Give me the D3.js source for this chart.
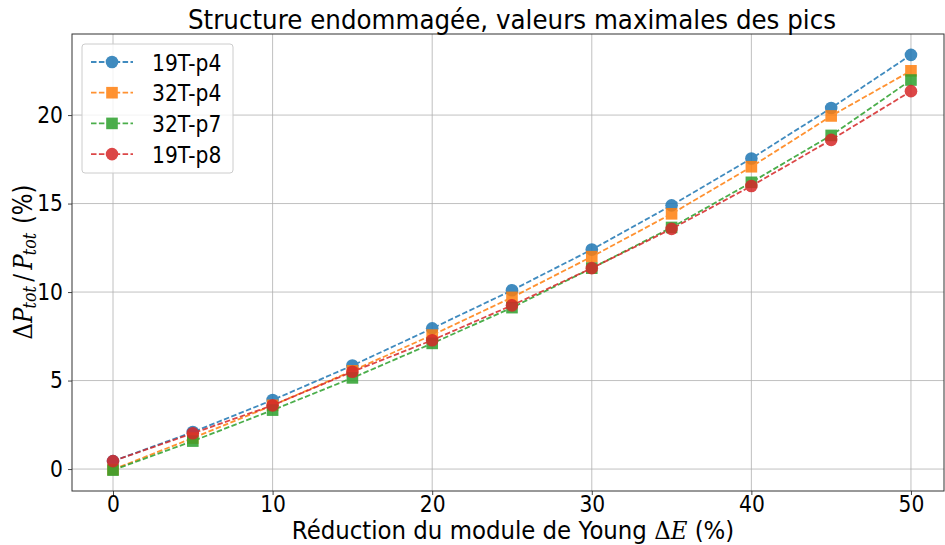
<!DOCTYPE html>
<html>
<head>
<meta charset="utf-8">
<script src="https://cdn.jsdelivr.net/npm/d3@7"></script>
<style>
  html, body { margin: 0; padding: 0; background: #ffffff; }
  svg { display: block; }
  text { font-family: "DejaVu Sans", sans-serif; fill: #000; }
</style>
</head>
<body>
<svg id="chart" width="945" height="545"></svg>
<script>
// Stiffness reduction (%) of the damaged structure
const reductions = [0, 5, 10, 15, 20, 25, 30, 35, 40, 45, 50];

// Maximum peak variation ΔP_tot / P_tot (%) for each sensor
const s19Tp4 = [0.45, 2.09, 3.90, 5.85, 7.95, 10.10, 12.40, 14.90, 17.55, 20.40, 23.40];
const s32Tp4 = [-0.03, 1.75, 3.60, 5.55, 7.57, 9.70, 12.00, 14.42, 17.08, 19.95, 22.50];
const s32Tp7 = [-0.06, 1.58, 3.33, 5.15, 7.10, 9.12, 11.35, 13.65, 16.20, 18.85, 21.98];
const s19Tp8 = [0.45, 2.02, 3.60, 5.50, 7.28, 9.25, 11.35, 13.57, 15.99, 18.60, 21.35];

const seriesNames = ["19T-p4", "32T-p4", "32T-p7", "19T-p8"];
const seriesValues = [s19Tp4, s32Tp4, s32Tp7, s19Tp8];
const seriesColors = ["#1f77b4", "#ff7f0e", "#2ca02c", "#d62728"];
const seriesMarkers = ["circle", "square", "square", "circle"];

const xTicks = [0, 10, 20, 30, 40, 50];
const yTicks = [0, 5, 10, 15, 20];

const plotLeft = 72, plotRight = 944, plotTop = 34, plotBottom = 491;
const squeeze = 0.88; // narrower glyph advance used for every text

const x = d3.scaleLinear().domain([-2.57, 52.07]).range([plotLeft, plotRight]);
const y = d3.scaleLinear().domain([-1.24, 24.58]).range([plotBottom, plotTop]);

const svg = d3.select("#chart");

function narrow(sel, target) {
  sel.each(function () {
    const len = this.getComputedTextLength();
    d3.select(this).attr("textLength", target || len * squeeze)
      .attr("lengthAdjust", "spacingAndGlyphs");
  });
}

// grid
const grid = svg.append("g");
grid.selectAll("line.gx").data(xTicks).join("line").attr("class", "gx")
  .attr("x1", d => x(d)).attr("x2", d => x(d))
  .attr("y1", plotTop).attr("y2", plotBottom)
  .attr("stroke", "#b0b0b0").attr("stroke-width", 0.8);
grid.selectAll("line.gy").data(yTicks).join("line").attr("class", "gy")
  .attr("x1", plotLeft).attr("x2", plotRight)
  .attr("y1", d => y(d)).attr("y2", d => y(d))
  .attr("stroke", "#b0b0b0").attr("stroke-width", 0.8);

// axes
const xAxis = d3.axisBottom(x).tickValues(xTicks).tickSize(4).tickPadding(1).tickFormat(d3.format("d"));
const yAxis = d3.axisLeft(y).tickValues(yTicks).tickSize(4).tickPadding(5).tickFormat(d3.format("d"));

const gx = svg.append("g").attr("transform", `translate(0,${plotBottom})`).call(xAxis);
const gy = svg.append("g").attr("transform", `translate(${plotLeft},0)`).call(yAxis);
[gx, gy].forEach(g => {
  g.select(".domain").remove();
  g.selectAll(".tick line").attr("stroke", "#333").attr("stroke-width", 0.9);
  g.selectAll(".tick text").attr("font-size", 23).attr("font-family", "DejaVu Sans").attr("fill", "#000");
  narrow(g.selectAll(".tick text"));
});

// frame
svg.append("rect").attr("x", plotLeft).attr("y", plotTop)
  .attr("width", plotRight - plotLeft).attr("height", plotBottom - plotTop)
  .attr("fill", "none").attr("stroke", "#333").attr("stroke-width", 1);

// series
const line = d3.line().x((d, i) => x(reductions[i])).y(d => y(d));
const plot = svg.append("g");
seriesValues.forEach((vals, k) => {
  const g = plot.append("g").attr("opacity", 0.85);
  g.append("path").datum(vals).attr("d", line)
    .attr("fill", "none").attr("stroke", seriesColors[k])
    .attr("stroke-width", 1.8).attr("stroke-dasharray", "5.5,2.4");
  if (seriesMarkers[k] === "circle") {
    g.selectAll("circle").data(vals).join("circle")
      .attr("cx", (d, i) => x(reductions[i])).attr("cy", d => y(d))
      .attr("r", 6.3).attr("fill", seriesColors[k]);
  } else {
    g.selectAll("rect").data(vals).join("rect")
      .attr("x", (d, i) => x(reductions[i]) - 5.8).attr("y", d => y(d) - 5.8)
      .attr("width", 11.6).attr("height", 11.6).attr("fill", seriesColors[k]);
  }
});

// title
svg.append("text").attr("x", 512).attr("y", 29).attr("text-anchor", "middle")
  .attr("font-size", 27)
  .text("Structure endommagée, valeurs maximales des pics")
  .call(narrow, 648);

// x label (horizontally condensed through a transform)
const xl = svg.append("text").attr("transform", "translate(513,539) scale(0.915,1)")
  .attr("text-anchor", "middle").attr("font-size", 25);
xl.append("tspan").text("Réduction du module de Young ");
xl.append("tspan").attr("font-family", "DejaVu Serif").text("Δ");
xl.append("tspan").attr("font-family", "DejaVu Serif").attr("font-style", "italic").text("E");
xl.append("tspan").text(" (%)");

// y label: ΔP_tot / P_tot (%)
const yl = svg.append("text").attr("transform", `translate(32,262) rotate(-90) scale(${squeeze},1)`)
  .attr("text-anchor", "middle").attr("font-size", 26);
const serif = "DejaVu Serif";
yl.append("tspan").attr("font-family", serif).text("Δ");
yl.append("tspan").attr("font-family", serif).attr("font-style", "italic").text("P");
yl.append("tspan").attr("font-family", serif).attr("font-style", "italic")
  .attr("font-size", 18).attr("dx", -1).attr("dy", 4).text("tot");
yl.append("tspan").attr("font-family", serif).attr("dx", 5).attr("dy", -4).text("/");
yl.append("tspan").attr("font-family", serif).attr("font-style", "italic").attr("dx", 5).text("P");
yl.append("tspan").attr("font-family", serif).attr("font-style", "italic")
  .attr("font-size", 18).attr("dx", -1).attr("dy", 4).text("tot");
yl.append("tspan").attr("dx", 10).attr("dy", -4).text("(%)");

// legend
const lg = svg.append("g");
lg.append("rect").attr("x", 82).attr("y", 44).attr("width", 151).attr("height", 129)
  .attr("rx", 3).attr("fill", "#fff").attr("fill-opacity", 0.8)
  .attr("stroke", "#ccc").attr("stroke-width", 1);
seriesNames.forEach((name, k) => {
  const cy = 62 + k * 30.7;
  const e = lg.append("g").attr("opacity", 0.85);
  e.append("line").attr("x1", 91).attr("x2", 133).attr("y1", cy).attr("y2", cy)
    .attr("stroke", seriesColors[k]).attr("stroke-width", 1.8).attr("stroke-dasharray", "5.5,2.4");
  if (seriesMarkers[k] === "circle") {
    e.append("circle").attr("cx", 112).attr("cy", cy).attr("r", 6.3).attr("fill", seriesColors[k]);
  } else {
    e.append("rect").attr("x", 106.2).attr("y", cy - 5.8).attr("width", 11.6).attr("height", 11.6)
      .attr("fill", seriesColors[k]);
  }
  lg.append("text").attr("x", 152).attr("y", cy + 8.5).attr("font-size", 23).text(name)
    .call(narrow);
});
</script>
</body>
</html>
